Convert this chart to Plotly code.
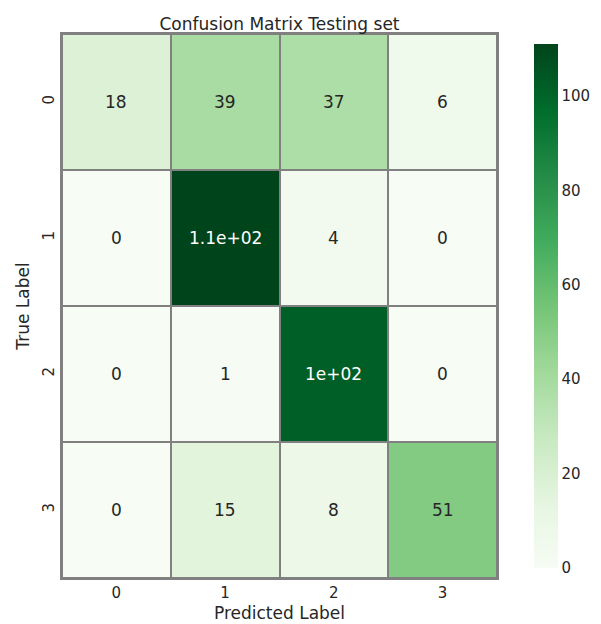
import plotly.graph_objects as go

labels = ["0", "1", "2", "3"]
values = [
    [18, 39, 37, 6],
    [0, 111, 4, 0],
    [0, 1, 102, 0],
    [0, 15, 8, 51],
]
texts = [
    ["18", "39", "37", "6"],
    ["0", "1.1e+02", "4", "0"],
    ["0", "1", "1e+02", "0"],
    ["0", "15", "8", "51"],
]

greens = [[0.0, "#f7fcf5"], [0.125, "#e5f5e0"], [0.25, "#c7e9c0"], [0.375, "#a1d99b"],
          [0.5, "#74c476"], [0.625, "#41ab5d"], [0.75, "#238b45"], [0.875, "#006d2c"], [1.0, "#00441b"]]

fig = go.Figure(go.Heatmap(
    z=values, x=labels, y=labels, colorscale=greens, zmin=0, zmax=111,
    xgap=2, ygap=2,
    colorbar=dict(x=1.063, xanchor="left", y=0.5, len=1, thickness=24,
                  outlinewidth=0, tickvals=[0, 20, 40, 60, 80, 100],
                  tickfont=dict(size=15, color="#262626"), ticks=""),
))

ann = []
for i, row in enumerate(values):
    for j, v in enumerate(row):
        ann.append(dict(x=labels[j], y=labels[i], text=texts[i][j], showarrow=False,
                        font=dict(size=17, color="white" if v > 60 else "#262626")))

fig.update_layout(
    width=601, height=624, margin=dict(l=54, r=101, t=26, b=54),
    paper_bgcolor="white", plot_bgcolor="#808080",
    font=dict(family="DejaVu Sans", color="#262626"),
    title=dict(text="Confusion Matrix Testing set", x=0.5, xref="paper", xanchor="center",
               y=1, yref="paper", yanchor="bottom", pad=dict(b=4), font=dict(size=17)),
    annotations=ann,
    xaxis=dict(title=dict(text="Predicted Label", font=dict(size=17), standoff=6),
               tickfont=dict(size=15), showgrid=False, zeroline=False, ticks="",
               showline=True, linecolor="#808080", linewidth=2, mirror=True),
    yaxis=dict(title=dict(text="True Label", font=dict(size=17), standoff=6),
               tickfont=dict(size=15), autorange="reversed", showgrid=False,
               zeroline=False, ticks="", tickangle=-90,
               showline=True, linecolor="#808080", linewidth=2, mirror=True),
)

fig.write_html("out.html")
